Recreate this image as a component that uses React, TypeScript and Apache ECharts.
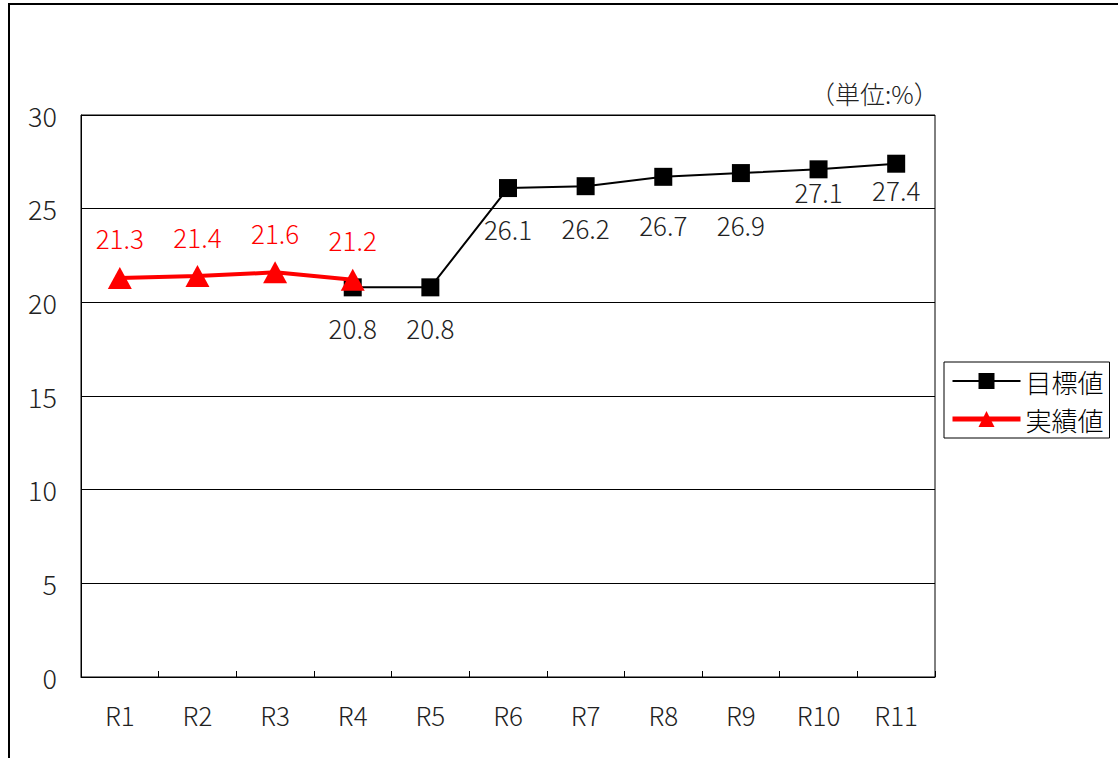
import React, { useEffect, useRef } from "react";
import * as echarts from "echarts";

const categories = ["R1", "R2", "R3", "R4", "R5", "R6", "R7", "R8", "R9", "R10", "R11"];
const targetValues: (number | null)[] = [null, null, null, 20.8, 20.8, 26.1, 26.2, 26.7, 26.9, 27.1, 27.4];
const actualValues: (number | null)[] = [21.3, 21.4, 21.6, 21.2, null, null, null, null, null, null, null];
const yTicks = { min: 0, max: 30, interval: 5 };

const FONT = "'Noto Sans CJK JP', 'Noto Sans', sans-serif";
// label distances (below the marker) used for the target series, per category
const targetLabelDistance = [18, 18, 18, 18, 18, 18, 19, 26, 29, 0, 4];

export default function App() {
  const ref = useRef<HTMLDivElement>(null);
  useEffect(() => {
    if (!ref.current) return;
    const chart = echarts.init(ref.current, undefined, { renderer: "svg" });
    chart.setOption({
      animation: false,
      backgroundColor: "#fff",
      textStyle: { fontFamily: FONT },
      grid: {
        left: 81,
        top: 115,
        right: 183,
        bottom: 81,
        show: true,
        borderColor: "#000",
        borderWidth: 1,
      },
      legend: {
        orient: "vertical",
        left: 944,
        top: 362,
        borderColor: "#000",
        borderWidth: 1,
        padding: [4, 6, 4, 6],
        itemGap: 8,
        itemWidth: 68,
        itemHeight: 20,
        textStyle: { fontSize: 26, lineHeight: 30, fontWeight: 300, color: "#000", fontFamily: FONT },
        data: [
          { name: "目標値", lineStyle: { width: 2 } },
          { name: "実績値", lineStyle: { width: 5 } },
        ],
      },
      xAxis: {
        type: "category",
        data: categories,
        boundaryGap: true,
        axisLine: { lineStyle: { color: "#000", width: 1 } },
        axisTick: { show: true, inside: true, length: 6, interval: 0, lineStyle: { color: "#000" } },
        axisLabel: { fontSize: 26, fontWeight: 300, color: "#222", margin: 24, fontFamily: FONT },
        splitLine: { show: false },
      },
      yAxis: {
        type: "value",
        min: yTicks.min,
        max: yTicks.max,
        interval: yTicks.interval,
        axisLine: { show: true, lineStyle: { color: "#000", width: 1 } },
        axisTick: { show: false },
        axisLabel: { fontSize: 27, fontWeight: 300, color: "#222", margin: 24, fontFamily: FONT },
        splitLine: { show: true, lineStyle: { color: "#000", width: 1 } },
      },
      graphic: [
        { type: "line", shape: { x1: 8, y1: 4, x2: 1118, y2: 4 }, style: { stroke: "#000", lineWidth: 2 } },
        { type: "line", shape: { x1: 9, y1: 3, x2: 9, y2: 758 }, style: { stroke: "#000", lineWidth: 2 } },
        {
          type: "text",
          left: 810,
          top: 80,
          style: { text: "（単位:%）", font: `300 25px ${FONT}`, fill: "#222" },
        },
      ],
      series: [
        {
          name: "目標値",
          type: "line",
          data: targetValues.map((v, i) => ({
            value: v,
            label: { distance: targetLabelDistance[i] },
          })),
          symbol: "rect",
          symbolSize: 18,
          itemStyle: { color: "#000" },
          lineStyle: { color: "#000", width: 2 },
          label: {
            show: true,
            position: "bottom",
            fontSize: 26,
            fontWeight: 300,
            color: "#222",
            fontFamily: FONT,
          },
          z: 2,
        },
        {
          name: "実績値",
          type: "line",
          data: actualValues,
          symbol: "triangle",
          symbolSize: [24, 22],
          itemStyle: { color: "#ff0000" },
          lineStyle: { color: "#ff0000", width: 4 },
          label: {
            show: true,
            position: "top",
            distance: 16,
            fontSize: 26,
            fontWeight: 300,
            color: "#ff0000",
            fontFamily: FONT,
          },
          z: 3,
        },
      ],
    });
    return () => chart.dispose();
  }, []);
  return (
    <div
      ref={ref}
      style={{ position: "absolute", left: 0, top: 0, width: 1118, height: 758 }}
    />
  );
}
